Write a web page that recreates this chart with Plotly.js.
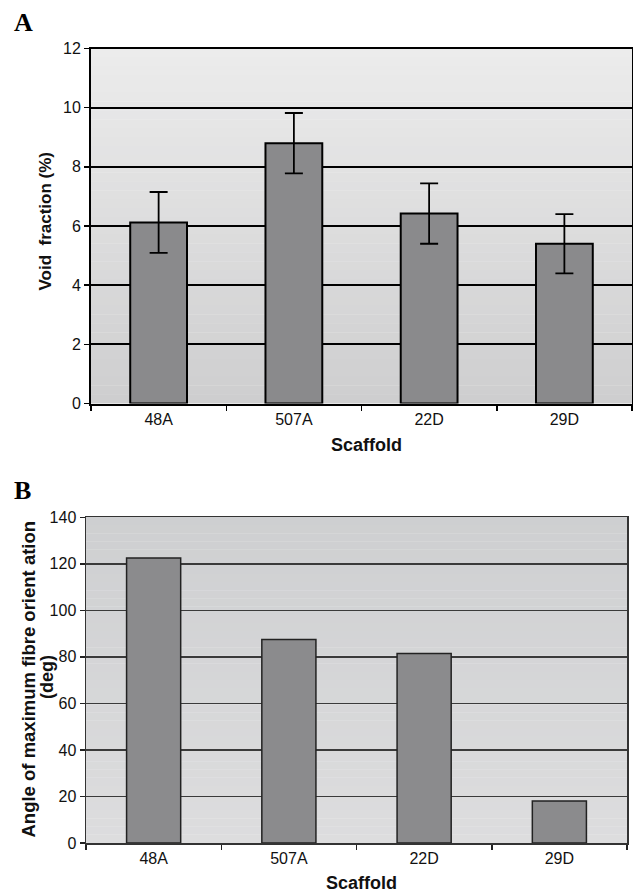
<!DOCTYPE html>
<html><head><meta charset="utf-8">
<script src="https://cdn.plot.ly/plotly-3.0.1.min.js"></script>
<style>body{margin:0;background:#fff}#chart{width:633px;height:893px}</style>
</head><body><div id="chart"></div>
<script>
const scaffolds = ['48A', '507A', '22D', '29D'];
const voidFraction = [6.12, 8.8, 6.42, 5.4];
const voidError = [1.03, 1.02, 1.02, 1.0];
const fibreAngle = [122.5, 87.5, 81.5, 18];
const voidTicks = [0, 2, 4, 6, 8, 10, 12];
const angleTicks = [0, 20, 40, 60, 80, 100, 120, 140];

const W = 633, H = 893;
const px = x => x / W;
const py = y => (H - y) / H;

function lerp(a, b, t) { return Math.round(a + (b - a) * t); }
function bands(xref, yref, top, bottom, n) {
  const out = [];
  for (let i = 0; i < n; i++) {
    const t = (i + 0.5) / n;
    const c = [0, 1, 2].map(k => lerp(top[k], bottom[k], t));
    out.push({type: 'rect', xref: xref, yref: yref, x0: 0, x1: 1,
      y0: 1 - (i + 1) / n, y1: 1 - i / n + 0.001, layer: 'below',
      line: {width: 0}, fillcolor: `rgb(${c[0]},${c[1]},${c[2]})`});
  }
  return out;
}

const SANS = "'Liberation Sans', Arial, Helvetica, sans-serif";
const SERIF = "'Liberation Serif', 'Times New Roman', serif";
const tickFont = {family: SANS, size: 16, color: '#111'};
const titleFont = {family: SANS, size: 18, color: '#111', weight: 'bold'};

const traces = [
  {type: 'bar', x: scaffolds, y: voidFraction, xaxis: 'x', yaxis: 'y', width: 0.42,
   marker: {color: '#8a8a8c', line: {color: '#000', width: 2}},
   error_y: {type: 'data', array: voidError, visible: true, color: '#000', thickness: 1.8, width: 9},
   hoverinfo: 'x+y'},
  {type: 'bar', x: scaffolds, y: fibreAngle, xaxis: 'x2', yaxis: 'y2', width: 0.4,
   marker: {color: '#8b8b8d', line: {color: '#222', width: 1.5}},
   hoverinfo: 'x+y'}
];

const layout = {
  width: W, height: H,
  margin: {l: 0, r: 0, t: 0, b: 0},
  paper_bgcolor: '#fff', plot_bgcolor: 'rgba(0,0,0,0)',
  showlegend: false,
  font: {family: SANS},
  xaxis: {domain: [px(91), px(632)], range: [-0.5, 3.5], type: 'category',
    showline: true, linecolor: '#000', linewidth: 2, mirror: true,
    ticks: 'outside', tickson: 'boundaries', ticklen: 5, tickwidth: 1.5, tickcolor: '#000',
    tickfont: tickFont, showgrid: false, fixedrange: true},
  yaxis: {domain: [py(403.5), py(48.5)], range: [0, 12], tickvals: voidTicks,
    showline: true, linecolor: '#000', linewidth: 2, mirror: true,
    ticks: 'outside', ticklen: 5, tickwidth: 1.5, tickcolor: '#000',
    tickfont: tickFont, showgrid: true, gridcolor: '#000', gridwidth: 2,
    zeroline: false, fixedrange: true},
  xaxis2: {domain: [px(86), px(627)], range: [-0.5, 3.5], type: 'category', anchor: 'y2',
    showline: true, linecolor: '#333', linewidth: 1.5, mirror: true,
    ticks: 'outside', tickson: 'boundaries', ticklen: 5, tickwidth: 1.5, tickcolor: '#222',
    tickfont: tickFont, showgrid: false, fixedrange: true},
  yaxis2: {domain: [py(843), py(517.3)], range: [0, 140], tickvals: angleTicks, anchor: 'x2',
    showline: true, linecolor: '#333', linewidth: 1.5, mirror: true,
    ticks: 'outside', ticklen: 5, tickwidth: 1.5, tickcolor: '#222',
    tickfont: tickFont, showgrid: true, gridcolor: '#3a3a3a', gridwidth: 1.5,
    zeroline: false, fixedrange: true},
  shapes: [
    ...bands('x domain', 'y domain', [236, 236, 236], [206, 206, 207], 40),
    ...bands('x2 domain', 'y2 domain', [206, 207, 209], [221, 221, 222], 40)
  ],
  annotations: [
    {text: 'A', xref: 'paper', yref: 'paper', x: px(12), y: py(6), xanchor: 'left', yanchor: 'top',
     showarrow: false, font: {family: SERIF, size: 26, color: '#000', weight: 'bold'}},
    {text: 'B', xref: 'paper', yref: 'paper', x: px(12), y: py(474), xanchor: 'left', yanchor: 'top',
     showarrow: false, font: {family: SERIF, size: 26, color: '#000', weight: 'bold'}},
    {text: 'Scaffold', xref: 'paper', yref: 'paper', x: px(366), y: py(445), xanchor: 'center', yanchor: 'middle',
     showarrow: false, font: titleFont},
    {text: 'Void  fraction (%)', xref: 'paper', yref: 'paper', x: px(45), y: py(221.5), xanchor: 'center', yanchor: 'middle',
     textangle: -90, showarrow: false, font: {...titleFont, size: 17}},
    {text: 'Scaffold', xref: 'paper', yref: 'paper', x: px(361), y: py(883), xanchor: 'center', yanchor: 'middle',
     showarrow: false, font: titleFont},
    {text: 'Angle of maximum fibre orient ation', xref: 'paper', yref: 'paper', x: px(27.5), y: py(679),
     xanchor: 'center', yanchor: 'middle', textangle: -90, showarrow: false,
     font: {...titleFont, size: 18.5}},
    {text: '(deg)', xref: 'paper', yref: 'paper', x: px(47), y: py(677),
     xanchor: 'center', yanchor: 'middle', textangle: -90, showarrow: false,
     font: {...titleFont, size: 18}}
  ]
};

Plotly.newPlot('chart', traces, layout, {displayModeBar: false, staticPlot: true});
</script>
</body></html>
